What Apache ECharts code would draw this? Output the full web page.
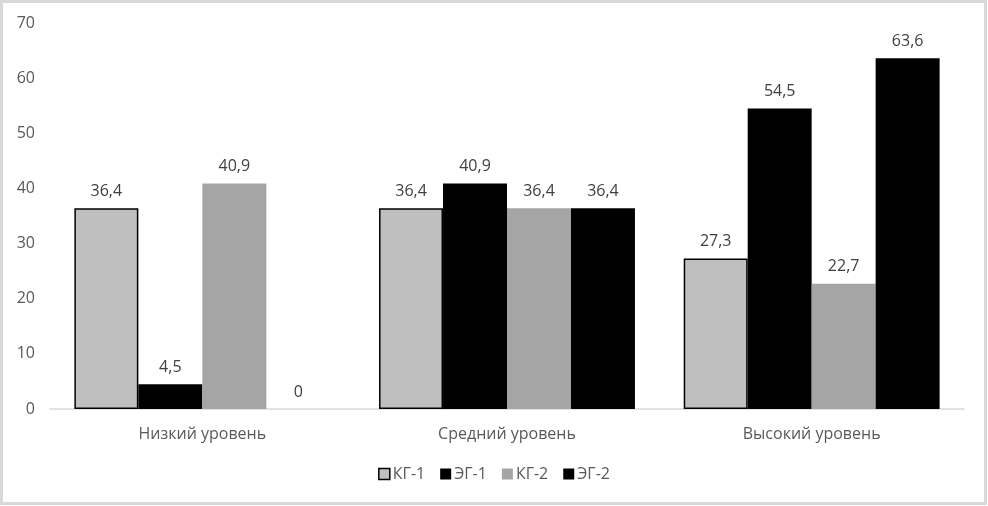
<!DOCTYPE html>
<html><head><meta charset="utf-8">
<script src="https://cdn.jsdelivr.net/npm/echarts@6/dist/echarts.min.js"></script>
<style>html,body{margin:0;padding:0;background:#fff}#c{width:988px;height:506px}</style>
</head><body><div id="c"></div>
<script>
const categories = ['Низкий уровень', 'Средний уровень', 'Высокий уровень'];
const seriesNames = ['КГ-1', 'ЭГ-1', 'КГ-2', 'ЭГ-2'];
const kg1 = [36.4, 36.4, 27.3];
const eg1 = [4.5, 40.9, 54.5];
const kg2 = [40.9, 36.4, 22.7];
const eg2 = [0, 36.4, 63.6];
const yTicks = [0, 10, 20, 30, 40, 50, 60, 70];

const colors = ['#bfbfbf', '#000000', '#a5a5a5', '#000000'];
const borders = [{c:'#000', w:1.5}, {c:'#000', w:0}, {c:'#a5a5a5', w:0}, {c:'#000', w:0}];
const values = [kg1, eg1, kg2, eg2];
const font = 'Open Sans, Liberation Sans, sans-serif';

const chart = echarts.init(document.getElementById('c'));
chart.setOption({
  animation: false,
  graphic: [{type:'rect', shape:{x:1.5, y:1.5, width:984, height:502}, style:{fill:'none', stroke:'#d9d9d9', lineWidth:3}}],
  grid: {left: 50, right: 24, top: 23, bottom: 97},
  legend: {
    bottom: 19, left: 'center', itemWidth: 11, itemHeight: 11, itemGap: 15, itemStyle: {},
    textStyle: {fontFamily: font, fontSize: 16, color: '#595959', padding: [0, 0, 0, -2]},
    data: seriesNames.map((n, i) => ({name: n, icon: 'rect', itemStyle: {borderColor: i === 0 ? '#000' : colors[i], borderWidth: i === 0 ? 1.5 : 0}}))
  },
  xAxis: {
    type: 'category', data: categories,
    axisLine: {lineStyle: {color: '#d9d9d9', width: 1.5}},
    axisTick: {show: false},
    axisLabel: {fontFamily: font, fontSize: 16, color: '#595959', margin: 17}
  },
  yAxis: {
    type: 'value', min: 0, max: 70, interval: 10,
    splitLine: {show: false}, axisLine: {show: false}, axisTick: {show: false},
    axisLabel: {fontFamily: font, fontSize: 16, color: '#595959', margin: 15,
      formatter: v => yTicks.includes(v) ? String(v) : ''}
  },
  series: seriesNames.map((n, i) => ({
    name: n, type: 'bar', data: values[i],
    barGap: '0%', barCategoryGap: '16%',
    itemStyle: {color: colors[i], borderColor: borders[i].c, borderWidth: borders[i].w},
    label: {show: true, position: 'top', distance: 9, fontFamily: font, fontSize: 16, color: '#404040',
      formatter: p => String(p.value).replace('.', ',')}
  }))
});
</script></body></html>
